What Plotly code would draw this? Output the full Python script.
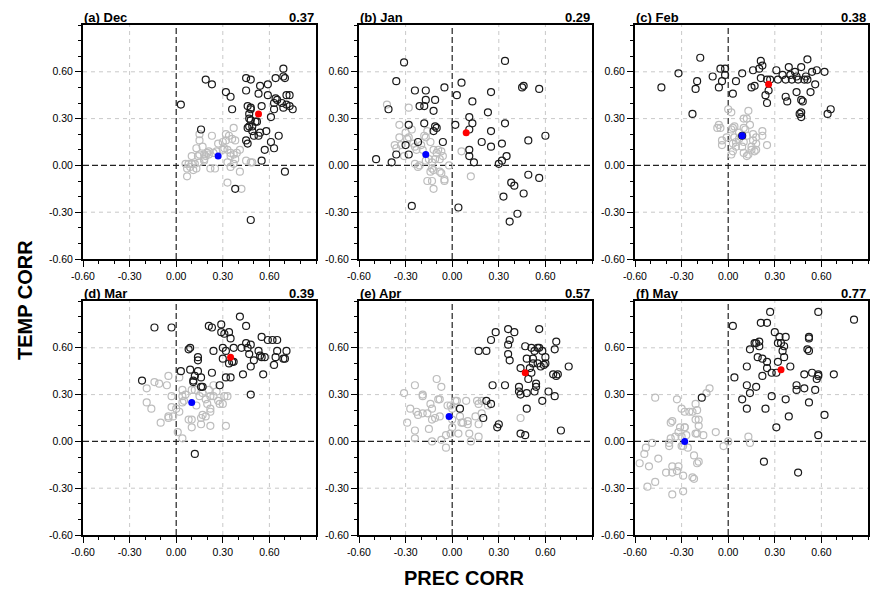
import plotly.graph_objects as go

# ---------------- data ----------------
PANEL_LABELS = ["(a) Dec", "(b) Jan", "(c) Feb", "(d) Mar", "(e) Apr", "(f) May"]
PANEL_SCORES = ["0.37", "0.29", "0.38", "0.39", "0.57", "0.77"]

TICK_VALS = [-0.6, -0.3, 0.0, 0.3, 0.6]
TICK_TEXT = ["-0.60", "-0.30", "0.00", "0.30", "0.60"]

# red (significant-mean) and blue (non-significant-mean) dots per panel
RED_X = [0.53, 0.09, 0.26, 0.35, 0.47, 0.34]
RED_Y = [0.33, 0.21, 0.52, 0.54, 0.44, 0.46]
BLUE_X = [0.27, -0.17, 0.09, 0.10, -0.02, -0.28]
BLUE_Y = [0.06, 0.07, 0.19, 0.25, 0.16, 0.00]

# black open circles (x = PREC CORR, y = TEMP CORR)
DEC_BLACK = [(0.69,0.62),(0.69,0.57),(0.70,0.56),(0.64,0.56),(0.45,0.56),(0.48,0.55),(0.54,0.51),(0.59,0.52),
             (0.45,0.48),(0.53,0.46),(0.59,0.45),(0.71,0.45),(0.73,0.45),(0.64,0.43),(0.65,0.42),(0.63,0.40),
             (0.68,0.40),(0.71,0.39),(0.73,0.38),(0.75,0.36),(0.63,0.36),(0.69,0.37),(0.55,0.38),(0.46,0.38),
             (0.48,0.37),(0.48,0.36),(0.47,0.33),(0.47,0.30),(0.61,0.31),(0.48,0.29),(0.51,0.28),(0.52,0.28),
             (0.46,0.24),(0.47,0.25),(0.49,0.25),(0.49,0.22),(0.58,0.22),(0.66,0.19),(0.54,0.21),(0.50,0.19),
             (0.53,0.19),(0.45,0.16),(0.46,0.14),(0.61,0.15),(0.63,0.11),(0.57,0.10),(0.55,0.03),(0.70,-0.04),
             (0.38,-0.15),(0.48,-0.35),(0.03,0.39),(0.19,0.55),(0.23,0.52),(0.32,0.47),(0.35,0.44),(0.36,0.36),
             (0.16,0.23)]
JAN_BLACK = [(-0.31,0.66),(-0.36,0.54),(-0.24,0.48),(-0.17,0.48),(-0.17,0.42),(-0.11,0.42),(-0.21,0.38),
             (-0.18,0.38),(-0.12,0.35),(-0.41,0.36),(-0.28,0.26),(-0.18,0.27),(-0.11,0.25),(-0.10,0.24),
             (-0.12,0.22),(-0.22,0.15),(-0.06,0.15),(-0.30,0.13),(-0.28,0.07),(-0.36,0.07),(-0.49,0.04),
             (-0.39,0.02),(-0.26,-0.26),(-0.05,0.50),(0.03,0.45),(0.06,0.53),(0.13,0.41),(0.02,0.26),
             (0.11,0.31),(0.13,0.27),(0.11,0.23),(0.11,0.10),(0.11,0.06),(0.14,0.02),(0.04,-0.27),
             (0.25,0.47),(0.23,0.34),(0.25,0.22),(0.19,0.15),(0.25,0.12),(0.34,0.67),(0.34,0.27),
             (0.32,0.14),(0.35,0.06),(0.32,0.03),(0.30,0.01),(0.45,0.50),(0.46,0.51),(0.56,0.49),
             (0.60,0.19),(0.49,0.16),(0.49,-0.06),(0.56,-0.08),(0.38,-0.11),(0.40,-0.13),(0.46,-0.18),
             (0.33,-0.20),(0.42,-0.31),(0.37,-0.36)]
FEB_BLACK = [(-0.43,0.50),(-0.32,0.59),(-0.18,0.69),(-0.20,0.54),(-0.21,0.49),(-0.23,0.33),(-0.10,0.57),
             (-0.05,0.62),(-0.02,0.62),(-0.04,0.54),(-0.02,0.58),(-0.06,0.50),(0.03,0.46),(0.05,0.54),
             (0.09,0.59),(0.16,0.61),(0.17,0.51),(0.15,0.50),(0.20,0.62),(0.21,0.67),(0.22,0.64),
             (0.21,0.56),(0.25,0.55),(0.27,0.55),(0.26,0.48),(0.24,0.45),(0.25,0.40),(0.31,0.61),
             (0.32,0.55),(0.35,0.58),(0.37,0.55),(0.39,0.63),(0.40,0.58),(0.41,0.55),(0.43,0.60),
             (0.44,0.57),(0.45,0.55),(0.47,0.63),(0.49,0.55),(0.50,0.57),(0.51,0.68),(0.51,0.55),
             (0.54,0.60),(0.57,0.61),(0.56,0.52),(0.62,0.60),(0.53,0.47),(0.44,0.47),(0.37,0.44),
             (0.38,0.41),(0.47,0.42),(0.48,0.41),(0.47,0.34),(0.46,0.33),(0.47,0.31),(0.64,0.33),
             (0.66,0.36),(0.09,0.19)]
MAR_BLACK = [(-0.14,0.73),(-0.03,0.73),(-0.22,0.39),(0.03,0.45),(0.09,0.46),(0.08,0.59),(0.09,0.60),
             (0.14,0.54),(0.14,0.52),(0.11,0.39),(0.11,0.38),(0.12,0.42),(0.14,0.45),(0.16,0.41),
             (0.16,0.35),(0.17,0.35),(0.21,0.74),(0.23,0.73),(0.24,0.58),(0.23,0.44),(0.28,0.36),
             (0.29,0.75),(0.29,0.70),(0.31,0.69),(0.34,0.70),(0.35,0.66),(0.30,0.60),(0.32,0.58),
             (0.30,0.53),(0.34,0.50),(0.36,0.51),(0.37,0.51),(0.37,0.60),(0.32,0.41),(0.35,0.41),
             (0.41,0.80),(0.45,0.74),(0.42,0.60),(0.45,0.63),(0.48,0.62),(0.46,0.60),(0.47,0.56),
             (0.50,0.52),(0.48,0.48),(0.43,0.43),(0.48,0.30),(0.55,0.67),(0.53,0.58),(0.54,0.55),
             (0.55,0.54),(0.57,0.54),(0.59,0.65),(0.62,0.65),(0.65,0.65),(0.65,0.58),(0.64,0.54),
             (0.69,0.53),(0.70,0.53),(0.71,0.58),(0.63,0.49),(0.56,0.43),(0.12,-0.08)]
APR_BLACK = [(0.28,0.70),(0.36,0.72),(0.40,0.70),(0.56,0.72),(0.25,0.65),(0.37,0.65),(0.36,0.62),
             (0.17,0.58),(0.22,0.58),(0.36,0.56),(0.37,0.52),(0.47,0.61),(0.51,0.60),(0.55,0.60),
             (0.56,0.60),(0.58,0.58),(0.53,0.58),(0.52,0.53),(0.48,0.53),(0.52,0.50),(0.55,0.50),
             (0.60,0.54),(0.60,0.50),(0.59,0.49),(0.57,0.48),(0.67,0.64),(0.66,0.59),(0.50,0.47),
             (0.51,0.44),(0.44,0.47),(0.49,0.40),(0.65,0.43),(0.67,0.42),(0.68,0.43),(0.75,0.48),
             (0.26,0.36),(0.34,0.36),(0.43,0.35),(0.43,0.32),(0.44,0.30),(0.48,0.31),(0.54,0.37),
             (0.54,0.35),(0.53,0.32),(0.62,0.32),(0.66,0.29),(0.58,0.26),(0.22,0.26),(0.25,0.24),
             (0.05,0.21),(0.20,0.15),(0.30,0.11),(0.29,0.09),(0.48,0.21),(0.44,0.05),(0.47,0.04),
             (0.70,0.07)]
MAY_BLACK = [(0.03,0.74),(0.27,0.83),(0.58,0.83),(0.81,0.78),(0.21,0.76),(0.25,0.76),(0.30,0.70),
             (0.33,0.67),(0.37,0.67),(0.32,0.63),(0.34,0.63),(0.36,0.61),(0.35,0.58),(0.36,0.54),
             (0.32,0.51),(0.52,0.67),(0.52,0.66),(0.51,0.59),(0.52,0.58),(0.17,0.63),(0.18,0.63),
             (0.20,0.64),(0.20,0.61),(0.14,0.59),(0.19,0.54),(0.22,0.53),(0.25,0.51),(0.25,0.47),
             (0.22,0.42),(0.28,0.44),(0.31,0.44),(0.40,0.48),(0.12,0.48),(0.04,0.41),(0.12,0.36),
             (0.18,0.35),(0.14,0.31),(0.09,0.27),(0.12,0.21),(0.28,0.29),(0.37,0.27),(0.24,0.21),
             (0.39,0.16),(0.31,0.09),(0.49,0.43),(0.54,0.44),(0.58,0.43),(0.58,0.42),(0.57,0.40),
             (0.68,0.43),(0.44,0.36),(0.44,0.33),(0.49,0.34),(0.56,0.33),(0.52,0.25),(0.62,0.17),
             (0.58,0.04),(0.23,-0.13),(0.45,-0.20),(-0.17,0.28)]

# light-grey open circles
DEC_GREY = [(0.37,0.24),(0.32,0.20),(0.34,0.19),(0.36,0.17),(0.38,0.16),(0.23,0.19),(0.15,0.20),(0.15,0.16),
            (0.13,0.11),(0.17,0.12),(0.21,0.09),(0.21,0.07),(0.20,0.08),(0.18,0.07),(0.19,0.06),(0.14,0.06),
            (0.15,0.07),(0.10,0.06),(0.18,0.04),(0.18,0.03),(0.15,0.02),(0.10,0.01),(0.08,0.01),(0.06,0.01),
            (0.13,-0.02),(0.11,-0.03),(0.07,-0.02),(0.07,-0.07),(0.30,0.10),(0.31,0.11),(0.33,0.10),
            (0.35,0.08),(0.35,0.06),(0.37,0.07),(0.41,0.10),(0.39,0.08),(0.38,0.04),(0.37,0.01),(0.35,-0.01),
            (0.33,0.02),(0.25,-0.02),(0.22,-0.02),(0.41,-0.04),(0.33,-0.11),(0.42,-0.15),(0.45,0.03),
            (0.48,0.02),(0.49,0.02),(0.30,0.15),(0.32,0.16),(0.26,0.09),(0.24,0.08),(0.27,0.14),
            (0.09,-0.01),(0.12,0.01)]
JAN_GREY = [(-0.42,0.39),(-0.28,0.37),(-0.34,0.26),(-0.34,0.18),(-0.30,0.21),(-0.28,0.18),(-0.29,0.17),
            (-0.26,0.23),(-0.37,0.13),(-0.36,0.11),(-0.33,0.13),(-0.31,0.06),(-0.24,0.12),(-0.23,0.10),
            (-0.20,0.13),(-0.18,0.19),(-0.17,0.18),(-0.16,0.22),(-0.14,0.15),(-0.12,0.10),(-0.10,0.08),
            (-0.09,0.10),(-0.07,0.09),(-0.06,0.06),(-0.08,0.04),(-0.11,0.04),(-0.13,0.02),(-0.15,0.04),
            (-0.17,0.03),(-0.21,0.00),(-0.22,-0.01),(-0.24,0.01),(-0.12,-0.03),(-0.14,-0.04),(-0.13,-0.02),
            (-0.07,-0.05),(-0.08,-0.04),(-0.16,-0.10),(-0.13,-0.10),(-0.12,-0.15),(-0.05,-0.09),
            (-0.05,-0.10),(-0.02,0.00),(0.06,0.09),(0.12,-0.07),(-0.25,0.14),(-0.19,0.10)]
FEB_GREY = [(0.00,0.36),(0.02,0.34),(-0.06,0.26),(-0.07,0.24),(-0.05,0.24),(-0.04,0.16),(-0.04,0.13),
            (-0.01,0.18),(0.02,0.23),(0.03,0.24),(0.04,0.25),(0.04,0.18),(0.03,0.14),(0.02,0.07),(0.03,0.09),
            (0.05,0.12),(0.07,0.17),(0.10,0.24),(0.10,0.30),(0.12,0.30),(0.13,0.35),(0.14,0.26),(0.11,0.23),
            (0.12,0.19),(0.10,0.15),(0.09,0.12),(0.10,0.08),(0.12,0.06),(0.13,0.07),(0.15,0.12),(0.16,0.16),
            (0.16,0.20),(0.18,0.18),(0.18,0.14),(0.18,0.10),(0.22,0.22),(0.22,0.19),(0.25,0.13),(0.07,0.21),
            (0.05,0.15),(0.15,0.10),(0.17,0.09)]
MAR_GREY = [(-0.14,0.38),(-0.11,0.37),(-0.05,0.42),(-0.06,0.36),(-0.19,0.34),(-0.19,0.25),(-0.16,0.21),
            (-0.10,0.12),(-0.05,0.16),(-0.05,0.15),(-0.03,0.22),(-0.03,0.29),(0.02,0.41),(0.00,0.21),
            (-0.02,0.16),(0.02,0.19),(0.01,0.06),(0.04,0.02),(0.04,0.33),(0.06,0.30),(0.04,0.29),(0.04,0.25),
            (0.05,0.26),(0.08,0.14),(0.10,0.14),(0.10,0.09),(0.10,0.33),(0.13,0.23),(0.16,0.15),(0.16,0.11),
            (0.17,0.17),(0.19,0.16),(0.19,0.27),(0.17,0.31),(0.21,0.33),(0.22,0.29),(0.24,0.29),(0.20,0.24),
            (0.22,0.21),(0.22,0.19),(0.22,0.10),(0.26,0.32),(0.27,0.26),(0.28,0.24),(0.30,0.24),(0.31,0.29),
            (0.33,0.29),(0.32,0.10),(0.12,0.33),(0.24,0.36),(0.15,0.29)]
APR_GREY = [(-0.31,0.31),(-0.24,0.36),(-0.10,0.40),(-0.07,0.35),(-0.27,0.21),(-0.29,0.12),(-0.23,0.19),
            (-0.22,0.17),(-0.19,0.30),(-0.19,0.29),(-0.19,0.18),(-0.24,0.07),(-0.24,0.02),(-0.15,0.08),
            (-0.14,0.24),(-0.13,0.21),(-0.16,0.18),(-0.13,0.14),(-0.11,0.15),(-0.09,0.27),(-0.08,0.27),
            (-0.08,0.16),(-0.13,0.00),(-0.07,0.01),(-0.04,-0.04),(-0.03,0.23),(-0.04,0.04),(-0.01,0.05),
            (-0.01,0.23),(0.00,0.21),(0.00,0.09),(0.00,0.14),(0.02,0.26),(0.03,0.26),(0.05,0.16),(0.06,0.12),
            (0.04,0.05),(0.07,0.12),(0.09,0.26),(0.10,0.13),(0.10,0.11),(0.11,0.05),(0.12,0.00),(0.15,0.16),
            (0.16,0.26),(0.17,0.24),(0.19,0.26),(0.19,0.18),(0.17,0.11),(0.17,0.03),(0.23,0.23),(0.44,0.15)]
MAY_GREY = [(-0.47,0.28),(-0.12,0.34),(-0.14,0.31),(-0.33,0.27),(-0.30,0.21),(-0.28,0.19),(-0.25,0.19),
            (-0.23,0.19),(-0.20,0.20),(-0.21,0.24),(-0.36,0.13),(-0.37,0.12),(-0.21,0.14),(-0.19,0.10),
            (-0.19,0.14),(-0.20,0.05),(-0.21,0.05),(-0.16,0.04),(-0.08,0.06),(-0.32,0.06),(-0.28,0.09),
            (-0.27,0.04),(-0.30,0.03),(-0.34,0.03),(-0.37,0.02),(-0.38,-0.01),(-0.38,-0.03),(-0.49,-0.01),
            (-0.53,-0.04),(-0.54,-0.08),(-0.57,-0.14),(-0.51,-0.16),(-0.45,-0.11),(-0.30,-0.03),(-0.26,-0.04),
            (-0.29,-0.03),(-0.22,-0.09),(-0.20,-0.14),(-0.19,-0.13),(-0.36,-0.16),(-0.32,-0.16),(-0.33,-0.19),
            (-0.36,-0.20),(-0.40,-0.20),(-0.29,-0.22),(-0.23,-0.23),(-0.22,-0.24),(-0.47,-0.26),(-0.52,-0.29),
            (-0.36,-0.34),(-0.29,-0.32),(-0.03,-0.03),(0.00,0.00),(0.13,0.03),(0.14,-0.01),(-0.28,0.09),
            (-0.31,0.09)]

BLACK_SETS = [DEC_BLACK, JAN_BLACK, FEB_BLACK, MAR_BLACK, APR_BLACK, MAY_BLACK]
GREY_SETS = [DEC_GREY, JAN_GREY, FEB_GREY, MAR_GREY, APR_GREY, MAY_GREY]

# ---------------- layout ----------------
W, H = 871, 595
COL_LEFT = [83, 359, 635]      # px
ROW_TOP = [25, 301]            # px
PW, PH = 233, 234
FONT = "Liberation Sans, Arial, Helvetica, sans-serif"

fig = go.Figure()
layout = dict(template="none", width=W, height=H, autosize=False,
              margin=dict(l=0, r=0, t=0, b=0, pad=0, autoexpand=False),
              paper_bgcolor="white", plot_bgcolor="white", showlegend=False,
              font=dict(family=FONT, color="black"))
shapes, annotations = [], []

for i in range(6):
    r, c = divmod(i, 3)
    k = i + 1
    xa, ya = ("x" if k == 1 else f"x{k}"), ("y" if k == 1 else f"y{k}")
    xname, yname = ("xaxis" if k == 1 else f"xaxis{k}"), ("yaxis" if k == 1 else f"yaxis{k}")
    x0 = COL_LEFT[c] / W
    x1 = (COL_LEFT[c] + PW) / W
    y1 = 1 - ROW_TOP[r] / H
    y0 = 1 - (ROW_TOP[r] + PH) / H
    common = dict(range=[-0.6, 0.9], tickmode="array", tickvals=TICK_VALS, ticktext=TICK_TEXT,
                  ticks="outside", ticklen=6, tickwidth=1.4, tickcolor="black",
                  showline=True, linecolor="black", linewidth=2, mirror=True,
                  showgrid=False, zeroline=False, automargin=False,
                  tickfont=dict(size=10.5, family=FONT, color="black"),
                  minor=dict(tickmode="linear", tick0=0, dtick=0.1, ticks="outside",
                             ticklen=3, tickwidth=1.1, tickcolor="black", showgrid=False),
                  fixedrange=True)
    layout[xname] = dict(domain=[x0, x1], anchor=ya, **common)
    layout[yname] = dict(domain=[y0, y1], anchor=xa, **common)

    # light dashed grid at the labelled ticks, dashed black reference at zero
    for v in TICK_VALS[1:]:
        if v == 0.0:
            ln = dict(color="#222222", width=1.2, dash="6px,3px")
        else:
            ln = dict(color="#c9c9c9", width=1, dash="4px,4px")
        shapes.append(dict(type="line", xref=f"{xa} domain", yref=ya, x0=0, x1=1, y0=v, y1=v,
                           line=ln, layer="below"))
        shapes.append(dict(type="line", xref=xa, yref=f"{ya} domain", x0=v, x1=v, y0=0, y1=1,
                           line=ln, layer="below"))

    gx = [p[0] for p in GREY_SETS[i]]
    gy = [p[1] for p in GREY_SETS[i]]
    bx = [p[0] for p in BLACK_SETS[i]]
    by = [p[1] for p in BLACK_SETS[i]]
    fig.add_trace(go.Scatter(x=gx, y=gy, mode="markers", xaxis=xa, yaxis=ya,
                             marker=dict(symbol="circle-open", size=7, color="#bdbdbd",
                                         line=dict(width=1.2))))
    fig.add_trace(go.Scatter(x=bx, y=by, mode="markers", xaxis=xa, yaxis=ya,
                             marker=dict(symbol="circle-open", size=7, color="#1a1a1a",
                                         line=dict(width=1.2))))
    fig.add_trace(go.Scatter(x=[RED_X[i]], y=[RED_Y[i]], mode="markers", xaxis=xa, yaxis=ya,
                             marker=dict(symbol="circle", size=7, color="#ff0000")))
    fig.add_trace(go.Scatter(x=[BLUE_X[i]], y=[BLUE_Y[i]], mode="markers", xaxis=xa, yaxis=ya,
                             marker=dict(symbol="circle", size=7, color="#0000ff")))

    annotations.append(dict(text=f"<b>{PANEL_LABELS[i]}</b>", xref=f"{xa} domain", yref=f"{ya} domain",
                            x=0, y=1, xanchor="left", yanchor="bottom", showarrow=False,
                            font=dict(size=13, family=FONT, color="black"), xshift=-1, yshift=-2))
    annotations.append(dict(text=f"<b>{PANEL_SCORES[i]}</b>", xref=f"{xa} domain", yref=f"{ya} domain",
                            x=1, y=1, xanchor="right", yanchor="bottom", showarrow=False,
                            font=dict(size=13, family=FONT, color="black"), yshift=-2))

annotations.append(dict(text="<b>TEMP CORR</b>", xref="paper", yref="paper", x=25 / W, y=1 - 300 / H,
                        xanchor="center", yanchor="middle", textangle=-90, showarrow=False,
                        font=dict(size=20, family=FONT, color="black")))
annotations.append(dict(text="<b>PREC CORR</b>", xref="paper", yref="paper", x=465 / W, y=1 - 578 / H,
                        xanchor="center", yanchor="middle", showarrow=False,
                        font=dict(size=20, family=FONT, color="black")))

layout["shapes"] = shapes
layout["annotations"] = annotations
fig.update_layout(**layout)
fig.write_html("out.html", config={"displayModeBar": False},
               post_script="document.body.style.margin='0px';")
